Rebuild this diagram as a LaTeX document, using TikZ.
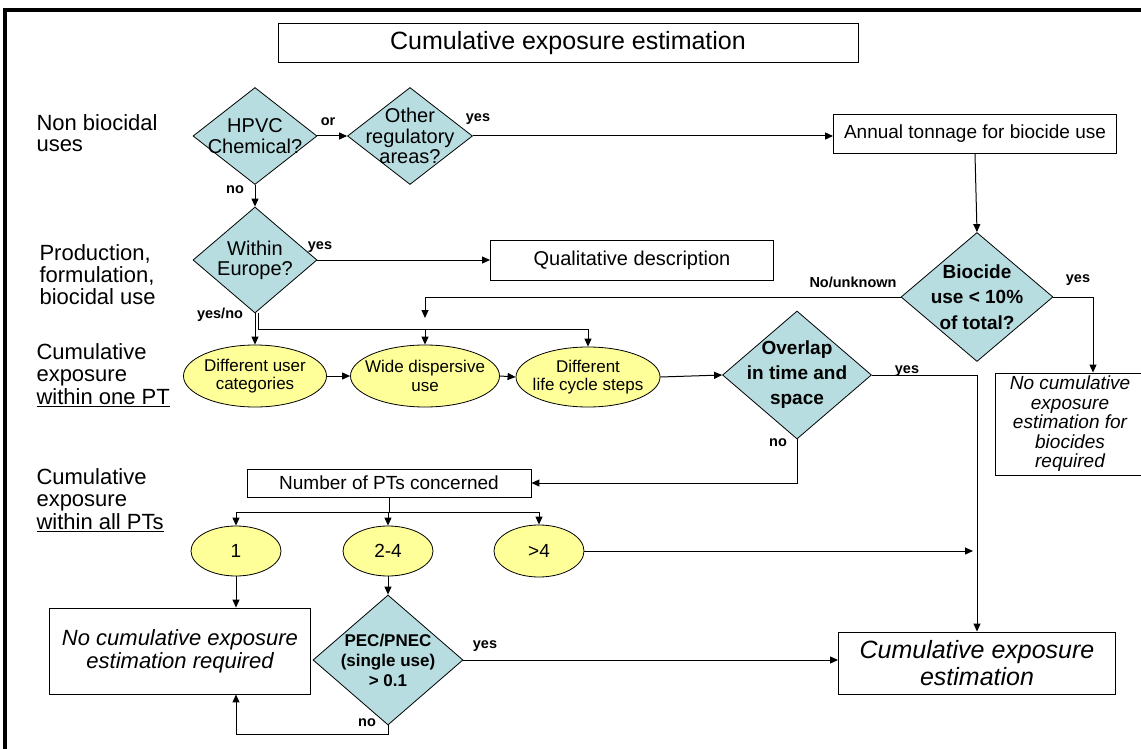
\documentclass[tikz,border=0pt]{standalone}
\usepackage{fontspec}
\setmainfont{Liberation Sans}
\usetikzlibrary{arrows.meta,shapes.geometric}
\definecolor{decisionblue}{RGB}{183,221,224}
\definecolor{stepyellow}{RGB}{255,255,153}
\newcommand{\zw}[1]{\makebox[0pt]{#1}}

\begin{document}
\begin{tikzpicture}[x=1pt, y=-1pt, >={Triangle[length=8pt,width=7pt]},
        box/.style={draw, line width=0.9pt, inner sep=0pt, align=center},
        question/.style={diamond, draw, line width=0.8pt, fill=decisionblue, inner sep=0pt, align=center},
        usestep/.style={ellipse, draw, line width=0.8pt, fill=stepyellow, inner sep=0pt, align=center},
        lbl/.style={font=\fontsize{14.5}{16}\selectfont\bfseries},
        rowlbl/.style={anchor=west, align=left}]

        % Page frame (cropped, only top and left edge show)
        \useasboundingbox (0,0) rectangle (1141,749);
        \draw[line width=3.5pt] (5,749) -- (5,10) -- (1141,10);

        % Title
        \node[box, minimum width=580pt, minimum height=39pt, font=\fontsize{25}{27}\selectfont] (title) at (568,43) {Cumulative exposure estimation};

        % Row labels on the left
        \node[rowlbl, font=\fontsize{22}{21}\selectfont] (nonbio) at (33,133) {Non biocidal\\uses};
        \node[rowlbl, font=\fontsize{22}{22}\selectfont] (prod) at (36,275) {Production,\\formulation,\\biocidal use};
        \node[rowlbl, font=\fontsize{22}{22.5}\selectfont] (onept) at (33,375) {Cumulative\\exposure\\\underline{within one PT}};
        \node[rowlbl, font=\fontsize{22}{22.5}\selectfont] (allpt) at (33,500) {Cumulative\\exposure\\\underline{within all PTs}};

        % Non biocidal uses
        \node[question, minimum width=124pt, minimum height=97pt, font=\fontsize{20}{21}\selectfont] (hpvc) at (255,136) {\zw{HPVC}\\\zw{Chemical?}};
        \node[question, minimum width=125pt, minimum height=97pt, font=\fontsize{20}{20.5}\selectfont] (other) at (410,136) {\zw{Other}\\\zw{regulatory}\\\zw{areas?}};
        \node[box, minimum width=283pt, minimum height=39pt, font=\fontsize{19}{21}\selectfont] (annual) at (975,134) {Annual tonnage for biocide use};
        \node[question, minimum width=152pt, minimum height=129pt, font=\fontsize{19}{25.5}\selectfont\bfseries] (biocide) at (977,297) {\zw{Biocide}\\\zw{use < 10\%}\\\zw{of total?}};
        \node[box, minimum width=149pt, minimum height=102pt, font=\fontsize{19}{19.5}\selectfont\itshape] (nocumbio) at (1070,424) {No cumulative\\exposure\\estimation for\\biocides\\required};

        % Production, formulation, biocidal use
        \node[question, minimum width=124pt, minimum height=106pt, font=\fontsize{20}{20}\selectfont] (within) at (255,260) {\zw{Within}\\\zw{Europe?}};
        \node[box, minimum width=283pt, minimum height=40pt, font=\fontsize{20}{22}\selectfont] (qual) at (632,260) {Qualitative description};

        % Within one PT
        \node[usestep, minimum width=143pt, minimum height=62pt, font=\fontsize{17}{18.5}\selectfont] (ucat) at (255,376) {\zw{Different user}\\\zw{categories}};
        \node[usestep, minimum width=149pt, minimum height=62pt, font=\fontsize{17}{18.5}\selectfont] (wide) at (425,376) {\zw{Wide dispersive}\\\zw{use}};
        \node[usestep, minimum width=144pt, minimum height=60pt, font=\fontsize{17}{18.5}\selectfont] (life) at (588,377) {\zw{Different}\\\zw{life cycle steps}};
        \node[question, minimum width=149pt, minimum height=128pt, font=\fontsize{19}{25}\selectfont\bfseries] (overlap) at (797,375) {\zw{Overlap}\\\zw{in time and}\\\zw{space}};

        % Within all PTs
        \node[box, minimum width=284pt, minimum height=28pt, font=\fontsize{19}{21}\selectfont] (num) at (389,483) {Number of PTs concerned};
        \node[usestep, minimum width=90pt, minimum height=50pt, font=\fontsize{19}{21}\selectfont] (n1) at (236,551) {1};
        \node[usestep, minimum width=90pt, minimum height=50pt, font=\fontsize{19}{21}\selectfont] (n24) at (388,551) {2-4};
        \node[usestep, minimum width=90pt, minimum height=52pt, font=\fontsize{19}{21}\selectfont] (n4) at (539,551) {>4};
        \node[box, minimum width=261pt, minimum height=86pt, font=\fontsize{22}{23}\selectfont\itshape] (nocum) at (180,651) {No cumulative exposure\\estimation required};
        \node[question, minimum width=150pt, minimum height=130pt, font=\fontsize{17}{20}\selectfont\bfseries] (pec) at (388,660) {\zw{PEC/PNEC}\\\zw{(single use)}\\\zw{> 0.1}};
        \node[box, minimum width=277pt, minimum height=62pt, font=\fontsize{25}{27}\selectfont\itshape] (cum) at (977,663) {Cumulative exposure\\estimation};

        % Helper points
        \coordinate (bus) at (258,329);
        \coordinate (nuend) at (425,318);
        \coordinate (split) at (389,512);
        \coordinate (n4end) at (973,551);

        % Connectors, top part
        \draw[->, line width=1pt] (hpvc.east) -- (other.west);
        \draw[->, line width=1pt] (other.east) -- (annual.west |- other.east);
        \draw[->, line width=1pt] (annual.south) -- (biocide.north);
        \draw[->, line width=1pt] (hpvc.south) -- (within.north);
        \draw[->, line width=1pt] (within.east) -- (qual.west);
        \draw[->, line width=1pt] (biocide.west) -| (nuend);
        \draw[->, line width=1pt] (biocide.east) -| ([xshift=23pt]nocumbio.north);

        % Connectors, within one PT
        \draw[->, line width=1pt] (within.south) -- (ucat.north);
        \draw[line width=1pt] ([xshift=3pt]within.south) -- (bus) -- (bus -| life.north);
        \draw[->, line width=1pt] (bus -| wide.north) -- (wide.north);
        \draw[->, line width=1pt] (bus -| life.north) -- (life.north);
        \draw[->, line width=1pt] (ucat.east) -- (wide.west);
        \draw[->, line width=1pt] (wide.east) -- (life.west);
        \draw[->, line width=1pt] (life.east) -- (overlap.west);
        \draw[->, line width=1pt] (overlap.east) -| (cum.north);
        \draw[->, line width=1pt] (overlap.south) |- (num.east);

        % Connectors, within all PTs
        \draw[line width=1pt] (num.south) -- (split);
        \draw[line width=1pt] (split -| n1.north) -- (split -| n4.north);
        \draw[->, line width=1pt] (split -| n1.north) -- (n1.north);
        \draw[->, line width=1pt] (split -| n24.north) -- (n24.north);
        \draw[->, line width=1pt] (split -| n4.north) -- (n4.north);
        \draw[->, line width=1pt] (n4.east) -- (n4end);
        \draw[->, line width=1pt] (n1.south) -- (n1.south |- nocum.north);
        \draw[->, line width=1pt] (n24.south) -- (pec.north);
        \draw[->, line width=1pt] (pec.east) -- (pec.east -| cum.west);
        \draw[->, line width=1pt] (pec.south) -- ++(0,9) -| (n1.south |- nocum.south);

        % Branch labels
        \node[lbl] (lor) at (328,122) {or};
        \node[lbl] (lyesother) at (478,119) {yes};
        \node[lbl] (lnohpvc) at (235,190) {no};
        \node[lbl] (lyeswithin) at (320,247) {yes};
        \node[lbl] (lyesno) at (220,315) {yes/no};
        \node[lbl] (lunknown) at (853,282) {No/unknown};
        \node[lbl] (lyesbio) at (1078,280) {yes};
        \node[lbl] (lyesoverlap) at (907,371) {yes};
        \node[lbl] (lnooverlap) at (778,443) {no};
        \node[lbl] (lyespec) at (485,646) {yes};
        \node[lbl] (lnopec) at (367,723) {no};
    \end{tikzpicture}
\end{document}
